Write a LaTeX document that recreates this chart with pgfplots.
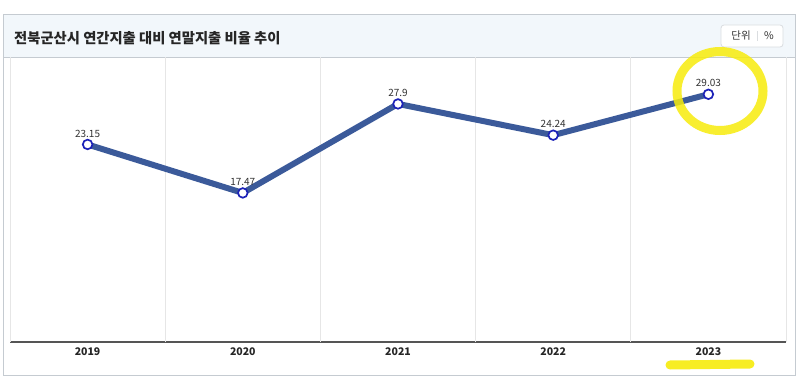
\documentclass[border=0pt]{standalone}
\usepackage{fontspec}
\setmainfont{Noto Sans CJK KR}
\usepackage{pgfplots}
\pgfplotsset{compat=1.18}
\definecolor{headbg}{HTML}{F2F7FB}
\definecolor{panelborder}{HTML}{C5CBD1}
\definecolor{btnborder}{HTML}{DADDE0}
\definecolor{lineblue}{HTML}{3B5A9A}
\definecolor{markblue}{HTML}{1C22B8}
\definecolor{gridgray}{HTML}{E6E6E6}
\definecolor{axisgray}{HTML}{555555}
\definecolor{labelgray}{HTML}{333333}
\definecolor{hl}{HTML}{F7EC0C}
\begin{document}
\begin{tikzpicture}[x=1pt,y=1pt]
\path[use as bounding box] (0,0) rectangle (809,389);
\fill[white] (0,0) rectangle (809,389);
\fill[headbg] (3,332) rectangle (795,374);
\draw[panelborder, line width=1pt] (3,14) rectangle (795,374);
\draw[panelborder, line width=0.8pt] (3,332) -- (795,332);
\node[anchor=west, inner sep=0pt, font=\fontsize{14.3}{16}\selectfont\bfseries, text=black!85] at (14,351) {전북군산시 연간지출 대비 연말지출 비율 추이};
\draw[btnborder, fill=white, rounded corners=3pt, line width=0.8pt] (721,342) rectangle (783,364);
\node[font=\fontsize{10.5}{12}\selectfont, text=labelgray] at (741,353) {단위};
\draw[btnborder, line width=0.8pt] (757.5,348) -- (757.5,358);
\node[font=\fontsize{10.5}{12}\selectfont, text=labelgray] at (769,353) {\%};
\begin{axis}[
  at={(10pt,47pt)}, anchor=south west,
  scale only axis, width=776pt, height=285pt,
  xmin=-0.5, xmax=4.5, ymin=0, ymax=33.4,
  axis x line*=bottom, axis y line=none,
  x axis line style={line width=2pt, color=axisgray},
  xtick={0,1,2,3,4},
  xticklabels={2019,2020,2021,2022,2023},
  major tick length=0pt,
  xticklabel style={font=\fontsize{10.5}{12}\selectfont\bfseries, text=black!85, anchor=north, yshift=-2pt},
  extra x ticks={-0.5,0.5,1.5,2.5,3.5,4.5},
  extra x tick labels={},
  extra x tick style={grid=major, major grid style={gridgray, line width=0.8pt}},
  clip=false,
]
\addplot[line width=6pt, color=lineblue, mark=*, mark size=4.8pt,
  mark options={fill=white, draw=markblue, line width=1.7pt},
  nodes near coords, point meta=explicit symbolic,
  nodes near coords style={font=\fontsize{10}{12}\selectfont, text=labelgray, anchor=south, yshift=3pt}]
  table[meta=label] {
x y label
0 23.15 23.15
1 17.47 17.47
2 27.9 27.9
3 24.24 24.24
4 29.03 29.03
};
\end{axis}
\draw[hl, line width=9pt, opacity=0.85] (720,298) ellipse [x radius=43, y radius=39.5];
\draw[hl, line width=9pt, opacity=0.9, line cap=round] (670,24) -- (750,25);
\end{tikzpicture}
\end{document}
